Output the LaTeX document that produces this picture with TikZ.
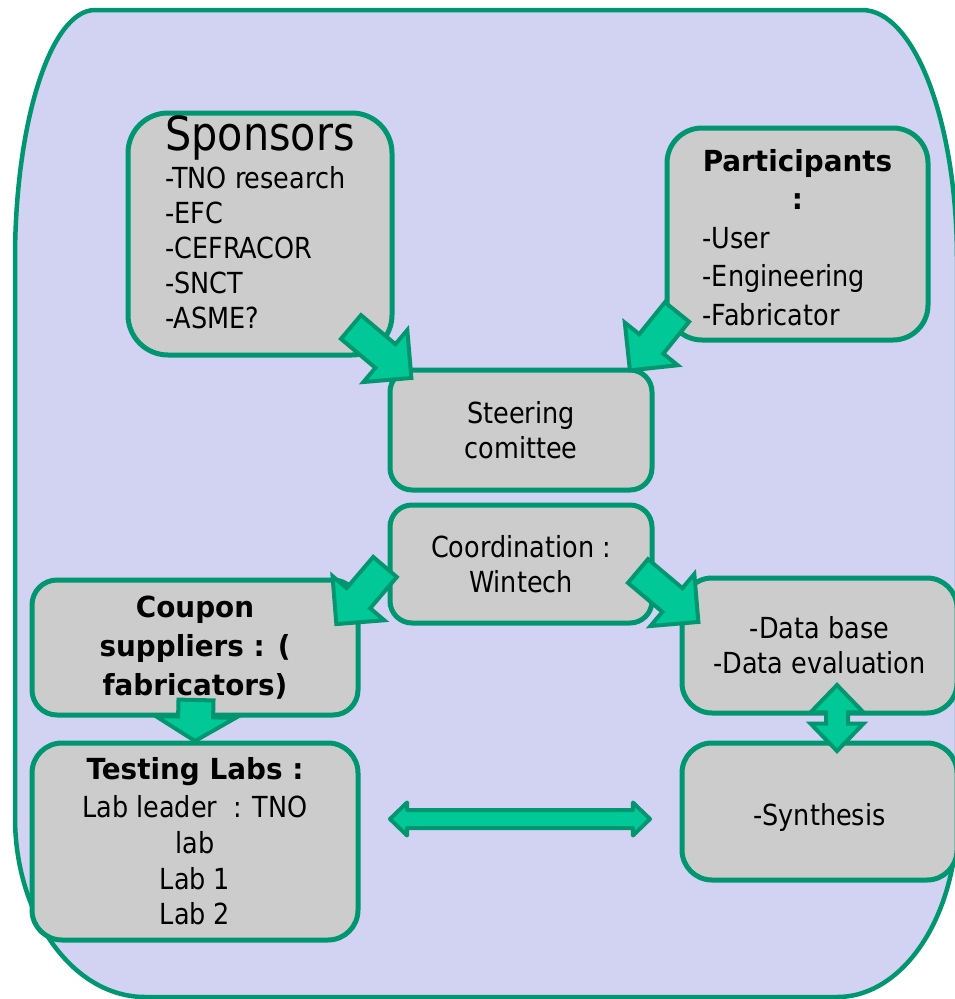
\documentclass[tikz,border=0pt]{standalone}
\usepackage{fontspec}
\setmainfont{DejaVu Sans}[FakeStretch=0.88,BoldFeatures={FakeStretch=0.96}]
\usetikzlibrary{shapes.arrows,positioning,calc}
\definecolor{framegreen}{RGB}{0,150,112}
\definecolor{arrowgreen}{RGB}{0,200,150}
\definecolor{lavender}{RGB}{210,210,242}
\definecolor{boxgray}{RGB}{204,204,204}

\begin{document}
\begin{tikzpicture}[
    x=1pt, y=1pt,
    node distance=15pt,
    box/.style={draw=framegreen, line width=5pt, fill=boxgray, rounded corners=25pt, align=center, inner sep=0pt, outer sep=0pt, font=\fontsize{29}{35}\selectfont},
    bigarrow/.style={single arrow, draw=framegreen, line width=4pt, fill=arrowgreen, inner xsep=0pt, outer sep=0pt, single arrow head indent=0pt, sloped, allow upside down, pos=0, anchor=tail},
    twoway/.style={double arrow, draw=framegreen, line width=4pt, fill=arrowgreen, inner xsep=0pt, outer sep=0pt, double arrow head indent=0pt, sloped, allow upside down, midway}
]
\useasboundingbox (0,0) rectangle (954,-999);

% Frame
\draw[line width=4.5pt, draw=framegreen, fill=lavender] (95,-10) -- (862,-10)
    arc[start angle=90, end angle=0, x radius=95, y radius=250] -- (957,-817)
    arc[start angle=0, end angle=-90, x radius=120, y radius=180] -- (145,-997)
    arc[start angle=270, end angle=180, x radius=130, y radius=180] -- (15,-260)
    arc[start angle=180, end angle=90, x radius=80, y radius=250] -- cycle;

% Top boxes
\node[box, rounded corners=40pt, minimum width=264pt, minimum height=242pt, align=left, text depth=24pt] (spons) at (260,-234)
    {{\fontsize{47}{47}\selectfont Sponsors}\\[3pt] -TNO research\\ -EFC\\ -CEFRACOR\\ -SNCT\\ -ASME?};
\node[box, rounded corners=35pt, minimum width=261pt, minimum height=212pt, text height=40pt] (part) at (797.5,-234)
    {\renewcommand\arraystretch{1.1}\begin{tabular}[t]{@{}l@{}}
     \multicolumn{1}{@{}c@{}}{\bfseries Participants}\\
     \multicolumn{1}{@{}c@{}}{\bfseries :}\\
     -User\\ -Engineering\\ -Fabricator\end{tabular}};

% Middle
\node[box, rounded corners=22pt, minimum width=262pt, minimum height=120pt, below right=15pt and -2pt of spons] (steer) {Steering\\comittee};
\node[box, rounded corners=22pt, minimum width=262pt, minimum height=118pt, below=of steer] (coord) {Coordination :\\Wintech};

% Left column
\node[box, minimum width=326pt, minimum height=135pt, font=\fontsize{29}{39}\selectfont\bfseries] (coup) at (195,-647.5)
    {Coupon\\suppliers : (\\fabricators)};
\node[box, rounded corners=30pt, minimum width=326pt, minimum height=197pt, below=28pt of coup] (test)
    {{\bfseries Testing Labs :}\\[3pt] Lab leader~~: TNO\\[1pt] lab\\[1pt] Lab 1\\ Lab 2};

% Right column
\node[box, rounded corners=30pt, minimum width=275pt, minimum height=135pt] (data) at (819.5,-645.5)
    {-Data base\\-Data evaluation};
\node[box, rounded corners=30pt, minimum width=275pt, minimum height=137pt, below=30pt of data, text height=34pt] (synth) {-Synthesis};

% Arrows
\path ($(spons.south east)+(-41,28)$) -- node[bigarrow, minimum height=79pt, inner ysep=13.5pt, single arrow head extend=18.5pt, single arrow tip angle=90] (arrA) {} ($(steer.north west)+(25,-11)$);
\path ($(part.south west)+(10,28)$) -- node[bigarrow, minimum height=75pt, inner ysep=13.5pt, single arrow head extend=18.5pt, single arrow tip angle=90] (arrB) {} ($(steer.north east)+(-25,-4)$);
\path ($(coord.west)+(-5,-3)$) -- node[bigarrow, minimum height=75pt, inner ysep=13.5pt, single arrow head extend=18.5pt, single arrow tip angle=90] (arrC) {} ($(coup.north east)+(-25,-48)$);
\path ($(coord.east)+(-14,-7)$) -- node[bigarrow, minimum height=79pt, inner ysep=13.5pt, single arrow head extend=18.5pt, single arrow tip angle=90] (arrD) {} ($(data.north west)+(20,-47)$);
\path ($(coup.south)+(1,15)$) -- node[bigarrow, minimum height=41pt, inner ysep=15.5pt, single arrow head extend=22.5pt, single arrow tip angle=118] (arrE) {} (test.north);
\path ($(test.east)+(32,22.5)$) -- node[twoway, line join=round, minimum height=260pt, inner ysep=7pt, double arrow head extend=7.5pt, double arrow tip angle=88] (arrF) {} ($(synth.west)+(-32,-7.5)$);
\path ($(data.south)+(17.5,28)$) -- node[twoway, minimum height=66pt, inner ysep=9pt, double arrow head extend=15.5pt, double arrow tip angle=88] (arrG) {} ($(synth.north)+(17.5,-8)$);

\end{tikzpicture}
\end{document}
